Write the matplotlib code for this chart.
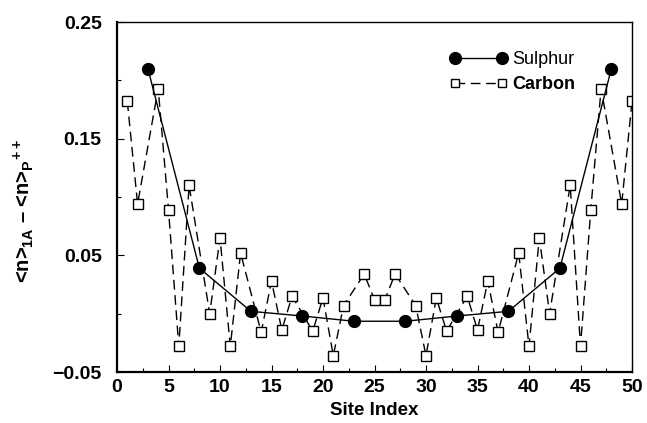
import matplotlib
matplotlib.use("Agg")
import matplotlib.pyplot as plt
from matplotlib.ticker import MultipleLocator

plt.rcParams['font.family'] = ['Liberation Sans', 'DejaVu Sans']
plt.rcParams['mathtext.fontset'] = 'custom'
plt.rcParams['mathtext.rm'] = 'Liberation Sans:bold'
plt.rcParams['mathtext.bf'] = 'Liberation Sans:bold'
plt.rcParams['mathtext.default'] = 'rm'

sulphur_x = [3, 8, 13, 18, 23, 28, 33, 38, 43, 48]
sulphur_y = [0.210, 0.039, 0.002, -0.002, -0.0065, -0.0065, -0.002, 0.002, 0.039, 0.210]

carbon_x = [1, 2, 4, 5, 6, 7, 9, 10, 11, 12, 14, 15, 16, 17, 19, 20, 21, 22, 24, 25,
            26, 27, 29, 30, 31, 32, 34, 35, 36, 37, 39, 40, 41, 42, 44, 45, 46, 47, 49, 50]
carbon_y = [0.182, 0.094, 0.193, 0.089, -0.028, 0.110, 0.000, 0.065, -0.028, 0.052,
            -0.016, 0.028, -0.014, 0.015, -0.015, 0.0135, -0.036, 0.007, 0.034, 0.012,
            0.012, 0.034, 0.007, -0.036, 0.0135, -0.015, 0.015, -0.014, 0.028, -0.016,
            0.052, -0.028, 0.065, 0.000, 0.110, -0.028, 0.089, 0.193, 0.094, 0.182]

yticks = [-0.05, 0.05, 0.15, 0.25]
ytick_labels = ['\u22120.05', '0.05', '0.15', '0.25']
xticks = [0, 5, 10, 15, 20, 25, 30, 35, 40, 45, 50]

fig = plt.figure(figsize=(6.47, 4.23), dpi=100)
ax = fig.add_axes([117/647, 1 - 372/423, (632-117)/647, (372-22)/423])

ax.plot(carbon_x, carbon_y, color='black', lw=1.0, dashes=(7, 4),
        marker='s', markersize=7.5, markerfacecolor='white', markeredgecolor='black',
        markeredgewidth=1.0, label='Carbon', zorder=2)
ax.plot(sulphur_x, sulphur_y, color='black', lw=1.0, linestyle='-',
        marker='o', markersize=8.5, markerfacecolor='black', markeredgecolor='black',
        label='Sulphur', zorder=3)

ax.set_xlim(0, 50)
ax.set_ylim(-0.05, 0.25)
ax.set_xticks(xticks)
ax.set_xticklabels([str(t) for t in xticks], fontweight='bold', fontsize=14)
ax.set_yticks(yticks)
ax.set_yticklabels(ytick_labels, fontweight='bold', fontsize=14)
ax.xaxis.set_minor_locator(MultipleLocator(2.5))
ax.yaxis.set_minor_locator(MultipleLocator(0.05))
ax.tick_params(which='both', direction='in', top=False, right=False, width=0.8)
ax.tick_params(which='major', length=5)
ax.tick_params(which='minor', length=3)
ax.tick_params(axis='x', which='major', pad=5)
ax.tick_params(axis='y', which='major', pad=11)

for s in ['left', 'bottom']:
    ax.spines[s].set_linewidth(1.6)
for s in ['top', 'right']:
    ax.spines[s].set_linewidth(1.0)

ax.set_xlabel('Site Index', fontweight='bold', fontsize=13.5, labelpad=4)
ax.set_ylabel('<n>$_{1A}$ \u2013 <n>$_{P}$$^{++}$',
              fontweight='bold', fontsize=14.5)
ax.yaxis.set_label_coords(-0.158, 0.46)

handles, labels = ax.get_legend_handles_labels()
order = [1, 0]
leg = ax.legend([handles[i] for i in order], [labels[i] for i in order],
                loc='center left', bbox_to_anchor=(0.645, 0.857), frameon=False,
                numpoints=2, handlelength=3.2, handletextpad=0.3, labelspacing=0.45,
                borderpad=0, borderaxespad=0, fontsize=13)
texts = leg.get_texts()
texts[0].set_fontsize(13)
texts[1].set_fontweight('bold')
texts[1].set_fontsize(13)
leg.legend_handles[1].set_markersize(5.5)

fig.savefig('out.png', dpi=100)
